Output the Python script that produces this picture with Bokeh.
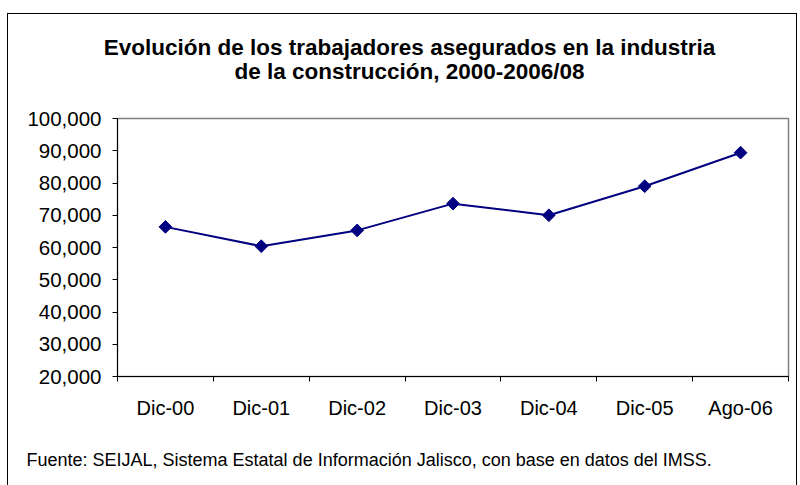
from bokeh.plotting import figure
from bokeh.models import Range1d, FixedTicker, NumeralTickFormatter, Label
from bokeh.embed import file_html
from bokeh.resources import INLINE

categories = ["Dic-00", "Dic-01", "Dic-02", "Dic-03", "Dic-04", "Dic-05", "Ago-06"]
trabajadores = [66400, 60400, 65300, 73600, 70000, 79000, 89400]
y_ticks = [20000, 30000, 40000, 50000, 60000, 70000, 80000, 90000, 100000]
title_lines = ["Evolución de los trabajadores asegurados en la industria",
               "de la construcción, 2000-2006/08"]
fuente = "Fuente: SEIJAL, Sistema Estatal de Información Jalisco, con base en datos del IMSS."

n = len(categories)
xs = [i + 0.5 for i in range(n)]

W, H = 790, 477
BL, BR, BT = 109, 10, 104
FH = 258
BB = H - BT - FH
p = figure(width=W, height=H, x_range=Range1d(0, n), y_range=Range1d(20000, 100000),
           output_backend="svg", toolbar_location=None,
           min_border_left=BL, min_border_right=BR, min_border_top=BT, min_border_bottom=BB)
p.margin = (13, 0, 0, 7)
p.styles = {"border": "1px solid #000000"}
p.background_fill_color = "white"
p.border_fill_color = "white"
p.outline_line_color = "#808080"
p.outline_line_width = 1.5
p.xgrid.visible = False
p.ygrid.visible = False

font = "Liberation Sans"

p.yaxis.ticker = FixedTicker(ticks=y_ticks)
p.yaxis.formatter = NumeralTickFormatter(format="0,0")
p.yaxis.major_tick_out = 5
p.yaxis.major_tick_in = 0
p.yaxis.minor_tick_out = 0
p.yaxis.minor_tick_in = 0
p.yaxis.major_label_standoff = 11
p.yaxis.axis_line_color = "#000000"
p.yaxis.major_tick_line_color = "#000000"
p.yaxis.major_label_text_font = font
p.yaxis.major_label_text_font_size = "20.5px"
p.yaxis.major_label_text_color = "#000000"

p.xaxis.ticker = FixedTicker(ticks=xs, minor_ticks=list(range(n + 1)))
p.xaxis.major_label_overrides = {x: c for x, c in zip(xs, categories)}
p.xaxis.major_tick_out = 0
p.xaxis.major_tick_in = 0
p.xaxis.minor_tick_out = 5
p.xaxis.minor_tick_in = 0
p.xaxis.minor_tick_line_color = "#000000"
p.xaxis.axis_line_color = "#000000"
p.xaxis.major_label_standoff = 15
p.xaxis.major_label_text_font = font
p.xaxis.major_label_text_font_size = "20px"
p.xaxis.major_label_text_color = "#000000"

p.line(xs, trabajadores, line_color="#000080", line_width=2)
p.scatter(xs, trabajadores, marker="square", angle=0.785398, size=9,
          fill_color="#000080", line_color="#000080")

# texts in the top side panel (screen units relative to each stacked panel)
title_y = [71, 22]
for t, yy in zip(title_lines, title_y):
    p.add_layout(Label(x=292, y=yy, x_units="screen", y_units="screen", text=t,
                       text_align="center", text_baseline="alphabetic",
                       text_font=font, text_font_style="bold", text_font_size="22.5px",
                       text_color="#000000"), "above")

p.add_layout(Label(x=-91, y=-391, x_units="screen", y_units="screen", text=fuente,
                   text_align="left", text_baseline="alphabetic",
                   text_font=font, text_font_size="18px", text_color="#000000"), "above")

open("out.html", "w").write(file_html(p, INLINE))
